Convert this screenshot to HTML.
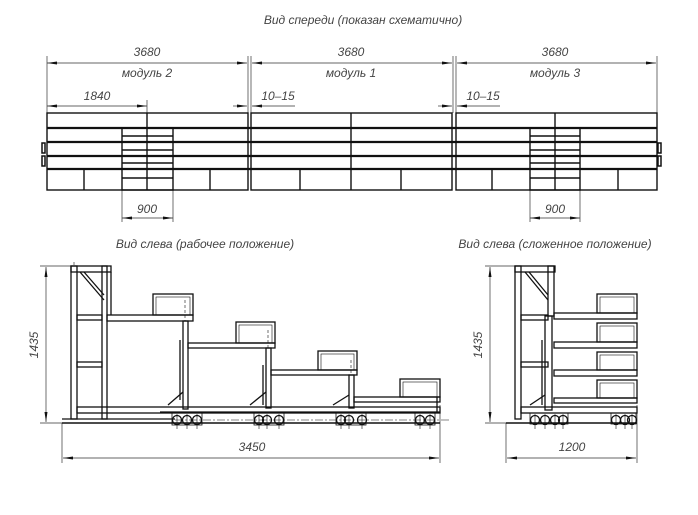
<!DOCTYPE html>
<html><head><meta charset="utf-8"><style>
html,body{margin:0;padding:0;background:#fff;}
svg{display:block}
text{font-family:"Liberation Sans",sans-serif;font-style:italic;fill:#444;}
</style></head><body>
<svg width="698" height="515" viewBox="0 0 698 515" xmlns="http://www.w3.org/2000/svg">
<defs>
<marker id="a" viewBox="0 0 10 4" refX="10" refY="2" markerWidth="10" markerHeight="4" orient="auto-start-reverse" markerUnits="userSpaceOnUse"><path d="M0,0.5 L10,2 L0,3.5z" fill="#111"/></marker>
</defs>
<!-- titles -->
<text x="363" y="24" font-size="12" text-anchor="middle" fill="#555">Вид спереди (показан схематично)</text>
<text x="205" y="248" font-size="12" text-anchor="middle" fill="#555">Вид слева (рабочее положение)</text>
<text x="555" y="248" font-size="12" text-anchor="middle" fill="#555">Вид слева (сложенное положение)</text>

<!-- FRONT dims -->
<g stroke="#333" stroke-width="0.7" fill="none">
<line x1="47" y1="56" x2="47" y2="113"/><line x1="248" y1="56" x2="248" y2="113"/><line x1="251" y1="56" x2="251" y2="113"/><line x1="453" y1="56" x2="453" y2="113"/><line x1="456" y1="56" x2="456" y2="113"/><line x1="657" y1="56" x2="657" y2="113"/>
<line x1="47" y1="63" x2="247" y2="63" marker-start="url(#a)" marker-end="url(#a)"/>
<line x1="252" y1="63" x2="452" y2="63" marker-start="url(#a)" marker-end="url(#a)"/>
<line x1="457" y1="63" x2="656" y2="63" marker-start="url(#a)" marker-end="url(#a)"/>
<line x1="47" y1="106" x2="147" y2="106" marker-start="url(#a)" marker-end="url(#a)"/>
<line x1="147" y1="100" x2="147" y2="113"/>
<line x1="233" y1="106" x2="247" y2="106" marker-end="url(#a)"/>
<line x1="252" y1="106" x2="295" y2="106" marker-start="url(#a)"/>
<line x1="438" y1="106" x2="452" y2="106" marker-end="url(#a)"/>
<line x1="457" y1="106" x2="500" y2="106" marker-start="url(#a)"/>
<line x1="122" y1="190" x2="122" y2="222"/><line x1="173" y1="190" x2="173" y2="222"/>
<line x1="122" y1="218" x2="173" y2="218" marker-start="url(#a)" marker-end="url(#a)"/>
<line x1="530" y1="190" x2="530" y2="222"/><line x1="580" y1="190" x2="580" y2="222"/>
<line x1="530" y1="218" x2="580" y2="218" marker-start="url(#a)" marker-end="url(#a)"/>
</g>
<g font-size="12" text-anchor="middle" fill="#444">
<text x="147" y="56">3680</text><text x="351" y="56">3680</text><text x="555" y="56">3680</text>
<text x="147" y="77">модуль 2</text><text x="351" y="77">модуль 1</text><text x="555" y="77">модуль 3</text>
<text x="97" y="100">1840</text><text x="278" y="100">10–15</text><text x="483" y="100">10–15</text>
<text x="147" y="213">900</text><text x="555" y="213">900</text>
</g>

<!-- FRONT body -->
<g stroke="#111" stroke-width="1.4" fill="none">
<rect x="47" y="113" width="201" height="77"/><rect x="251" y="113" width="201" height="77"/><rect x="456" y="113" width="201" height="77"/>
<g stroke-width="2.2">
<line x1="47" y1="128" x2="657" y2="128"/><line x1="47" y1="142" x2="657" y2="142"/><line x1="47" y1="156" x2="657" y2="156"/><line x1="47" y1="169" x2="657" y2="169"/>
</g>
<line x1="147" y1="113" x2="147" y2="190"/><line x1="351" y1="113" x2="351" y2="190"/><line x1="555" y1="113" x2="555" y2="190"/>
<rect x="122" y="128" width="51" height="62"/><rect x="530" y="128" width="50" height="62"/>
<line x1="122" y1="136" x2="173" y2="136"/><line x1="122" y1="150" x2="173" y2="150"/><line x1="122" y1="163" x2="173" y2="163"/><line x1="122" y1="178" x2="173" y2="178"/>
<line x1="530" y1="136" x2="580" y2="136"/><line x1="530" y1="150" x2="580" y2="150"/><line x1="530" y1="163" x2="580" y2="163"/><line x1="530" y1="178" x2="580" y2="178"/>
<line x1="84" y1="169" x2="84" y2="190"/><line x1="210" y1="169" x2="210" y2="190"/>
<line x1="300" y1="169" x2="300" y2="190"/><line x1="401" y1="169" x2="401" y2="190"/>
<line x1="492" y1="169" x2="492" y2="190"/><line x1="618" y1="169" x2="618" y2="190"/>
<rect x="42" y="143" width="3" height="10" stroke-width="1.5"/><rect x="42" y="156" width="3" height="10" stroke-width="1.5"/>
<rect x="658" y="143" width="3" height="10" stroke-width="1.5"/><rect x="658" y="156" width="3" height="10" stroke-width="1.5"/>
</g>

<!-- SIDE dims -->
<g stroke="#333" stroke-width="0.7" fill="none">
<line x1="40" y1="266" x2="72" y2="266"/><line x1="40" y1="423" x2="70" y2="423"/>
<line x1="46" y1="267" x2="46" y2="422" marker-start="url(#a)" marker-end="url(#a)"/>
<line x1="62" y1="423" x2="62" y2="463"/><line x1="440" y1="405" x2="440" y2="463"/>
<line x1="63" y1="458" x2="439" y2="458" marker-start="url(#a)" marker-end="url(#a)"/>
<line x1="485" y1="266" x2="516" y2="266"/><line x1="485" y1="423" x2="510" y2="423"/>
<line x1="490" y1="267" x2="490" y2="422" marker-start="url(#a)" marker-end="url(#a)"/>
<line x1="506" y1="423" x2="506" y2="463"/><line x1="637" y1="405" x2="637" y2="463"/>
<line x1="507" y1="458" x2="636" y2="458" marker-start="url(#a)" marker-end="url(#a)"/>
</g>
<g font-size="12" text-anchor="middle" fill="#444">
<text x="252" y="451">3450</text><text x="572" y="451">1200</text>
<text transform="translate(38,345) rotate(-90)">1435</text>
<text transform="translate(482,345) rotate(-90)">1435</text>
</g>

<!-- LEFT SIDE working -->
<g stroke="#111" stroke-width="1.3" fill="none">
<line x1="62" y1="423" x2="440" y2="423" stroke-width="1.6"/>
<line x1="62" y1="419" x2="175" y2="419"/>
<rect x="71" y="266" width="6" height="153"/><rect x="102" y="266" width="5" height="153"/>
<rect x="71" y="266" width="40" height="6"/><line x1="111" y1="272" x2="111" y2="315"/>
<line x1="80" y1="272" x2="104" y2="300"/><line x1="84" y1="272" x2="104" y2="295"/>
<rect x="77" y="315" width="25" height="5"/><rect x="77" y="362" width="25" height="5"/>
<rect x="107" y="315" width="86" height="6"/>
<rect x="153" y="294" width="40" height="21"/><rect x="156" y="297" width="34" height="18" stroke-width="0.6"/>
<rect x="183" y="321" width="5" height="88"/><line x1="180" y1="340" x2="180" y2="400"/>
<rect x="188" y="343" width="87" height="5"/>
<rect x="236" y="322" width="39" height="21"/><rect x="239" y="325" width="33" height="18" stroke-width="0.6"/>
<rect x="266" y="348" width="5" height="60"/><line x1="263" y1="365" x2="263" y2="405"/>
<rect x="271" y="370" width="86" height="5"/>
<rect x="318" y="351" width="39" height="19"/><rect x="321" y="354" width="33" height="16" stroke-width="0.6"/>
<rect x="349" y="375" width="5" height="33"/>
<rect x="354" y="397" width="86" height="5"/>
<rect x="400" y="379" width="40" height="18"/><rect x="403" y="382" width="34" height="15" stroke-width="0.6"/>
<line x1="437" y1="397" x2="437" y2="412"/>
<rect x="77" y="407" width="363" height="6"/>
<line x1="160" y1="412" x2="440" y2="412"/>
<line x1="168" y1="405" x2="183" y2="392"/><line x1="250" y1="405" x2="266" y2="392"/><line x1="333" y1="405" x2="349" y2="395"/>
<g stroke-width="0.6" stroke-dasharray="3,2"><line x1="74" y1="262" x2="74" y2="266"/><line x1="185" y1="300" x2="185" y2="321"/><line x1="268" y1="330" x2="268" y2="348"/><line x1="351" y1="360" x2="351" y2="375"/></g>
<line x1="175" y1="420" x2="450" y2="420" stroke-width="0.6" stroke-dasharray="8,2,2,2"/>
<circle cx="177" cy="420" r="4.5"/><circle cx="187" cy="420" r="4.5"/><circle cx="197" cy="420" r="4.5"/>
<circle cx="259" cy="420" r="4.5"/><circle cx="267" cy="420" r="4.5"/><circle cx="279" cy="420" r="4.5"/>
<circle cx="341" cy="420" r="4.5"/><circle cx="349" cy="420" r="4.5"/><circle cx="362" cy="420" r="4.5"/>
<circle cx="420" cy="420" r="4.5"/><circle cx="430" cy="420" r="4.5"/>
<g stroke-width="0.6"><line x1="177" y1="414" x2="177" y2="429"/><line x1="187" y1="414" x2="187" y2="429"/><line x1="197" y1="414" x2="197" y2="429"/><line x1="259" y1="414" x2="259" y2="429"/><line x1="267" y1="414" x2="267" y2="429"/><line x1="279" y1="414" x2="279" y2="429"/><line x1="341" y1="414" x2="341" y2="429"/><line x1="349" y1="414" x2="349" y2="429"/><line x1="362" y1="414" x2="362" y2="429"/><line x1="420" y1="414" x2="420" y2="429"/><line x1="430" y1="414" x2="430" y2="429"/></g>
<rect x="172" y="413" width="30" height="12" stroke-width="0.8"/><rect x="254" y="413" width="30" height="12" stroke-width="0.8"/><rect x="336" y="413" width="30" height="12" stroke-width="0.8"/><rect x="415" y="413" width="20" height="12" stroke-width="0.8"/>
</g>

<!-- RIGHT SIDE folded -->
<g stroke="#111" stroke-width="1.3" fill="none">
<line x1="506" y1="423" x2="637" y2="423" stroke-width="1.6"/>
<rect x="515" y="266" width="6" height="153"/><rect x="548" y="266" width="6" height="50"/>
<rect x="515" y="266" width="40" height="6"/>
<line x1="525" y1="272" x2="548" y2="300"/><line x1="529" y1="272" x2="548" y2="295"/>
<rect x="521" y="315" width="27" height="5"/><rect x="521" y="362" width="27" height="5"/>
<rect x="545" y="316" width="7" height="94"/><line x1="542" y1="340" x2="542" y2="405"/>
<rect x="554" y="313" width="83" height="6"/><rect x="597" y="294" width="40" height="19"/><rect x="600" y="297" width="34" height="16" stroke-width="0.6"/>
<rect x="554" y="342" width="83" height="6"/><rect x="597" y="323" width="40" height="19"/><rect x="600" y="326" width="34" height="16" stroke-width="0.6"/>
<rect x="554" y="370" width="83" height="6"/><rect x="597" y="352" width="40" height="18"/><rect x="600" y="355" width="34" height="15" stroke-width="0.6"/>
<rect x="554" y="398" width="83" height="5"/><rect x="597" y="380" width="40" height="18"/><rect x="600" y="383" width="34" height="15" stroke-width="0.6"/>
<rect x="521" y="407" width="116" height="6"/>
<line x1="530" y1="405" x2="545" y2="395"/>
<circle cx="535" cy="420" r="4.5"/><circle cx="545" cy="420" r="4.5"/><circle cx="555" cy="420" r="4.5"/><circle cx="563" cy="420" r="4.5"/>
<circle cx="616" cy="420" r="4.5"/><circle cx="625" cy="420" r="4.5"/><circle cx="632" cy="420" r="4.5"/>
<g stroke-width="0.6"><line x1="535" y1="414" x2="535" y2="429"/><line x1="545" y1="414" x2="545" y2="429"/><line x1="555" y1="414" x2="555" y2="429"/><line x1="563" y1="414" x2="563" y2="429"/><line x1="616" y1="414" x2="616" y2="429"/><line x1="625" y1="414" x2="625" y2="429"/><line x1="632" y1="414" x2="632" y2="429"/></g>
<rect x="530" y="413" width="38" height="11" stroke-width="0.8"/><rect x="611" y="413" width="25" height="11" stroke-width="0.8"/>
</g>
</svg>
</body></html>
